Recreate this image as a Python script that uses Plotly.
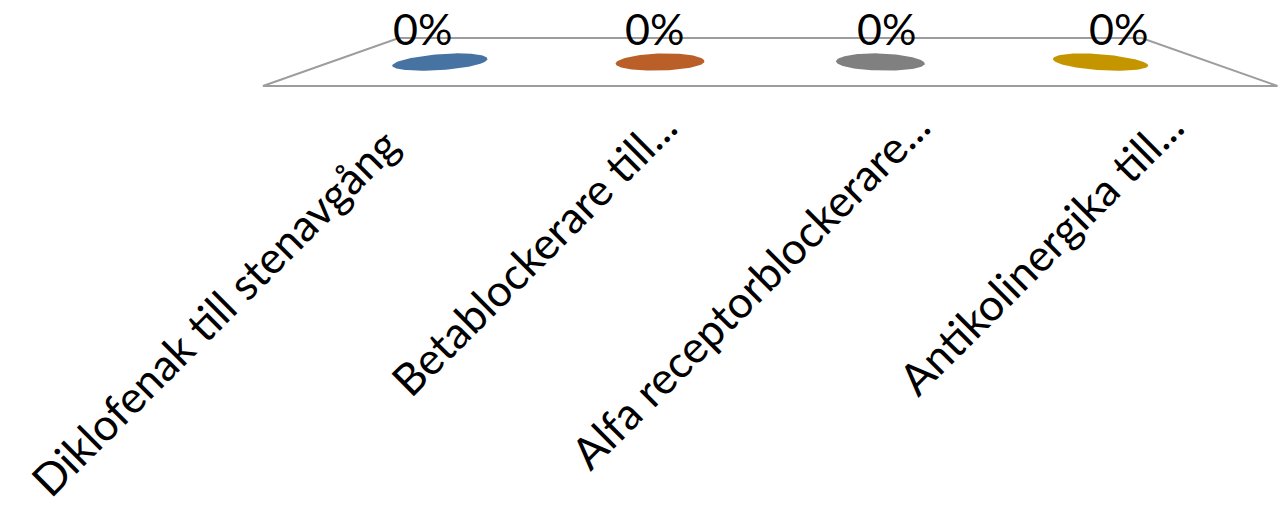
import numpy as np
import plotly.graph_objects as go

# ---- data -------------------------------------------------------------
categories = [
    "Diklofenak till stenavgång",
    "Betablockerare till...",
    "Alfa receptorblockerare...",
    "Antikolinergika till...",
]
values = [0, 0, 0, 0]                      # share of answers, percent
value_labels = ["0%", "0%", "0%", "0%"]
colors = ["#4673a1", "#b95f27", "#808080", "#c59500"]

# ---- 3-D floor geometry ------------------------------------------------
# Depth runs from -1 (front edge of the floor) to +1 (back edge).
# Horizontal spread shrinks towards the back (simple perspective).
BACK_SCALE = 0.732
BAR_HALF = 0.2        # column radius, in category units
BAR_DEPTH = 0.36      # column radius along the depth direction
HEIGHT_PER_PCT = 0.04  # vertical rise per percent point
FONT = "Lato"


def proj(u, depth):
    s = 1 - (1 - BACK_SCALE) * (np.asarray(depth) + 1) / 2
    return 1.5 + (np.asarray(u) - 1.5) * s


n = len(categories)
fig = go.Figure()

# floor outline (trapezoid)
fx = [proj(-0.5, -1), proj(-0.5, 1), proj(n - 0.5, 1), proj(n - 0.5, -1), proj(-0.5, -1)]
fy = [-1, 1, 1, -1, -1]
fig.add_trace(go.Scatter(
    x=fx, y=fy, mode="lines",
    line=dict(color="#9d9d9d", width=2),
    hoverinfo="skip", showlegend=False,
))

# columns: top ellipse lifted by the value (all values are zero here)
t = np.linspace(0, 2 * np.pi, 121)
for i, (v, c) in enumerate(zip(values, colors)):
    u = i + BAR_HALF * np.cos(t)
    d = BAR_DEPTH * np.sin(t)
    fig.add_trace(go.Scatter(
        x=proj(u, d), y=d + v * HEIGHT_PER_PCT,
        mode="lines", fill="toself", fillcolor=c,
        line=dict(width=0, color=c),
        hoverinfo="skip", showlegend=False,
    ))

annotations = []
# value labels at the front of each column top
for i, (v, lab) in enumerate(zip(values, value_labels)):
    annotations.append(dict(
        x=float(proj(i, -BAR_DEPTH)), y=-BAR_DEPTH + v * HEIGHT_PER_PCT,
        xref="x", yref="y", text=lab, showarrow=False,
        xanchor="center", yanchor="bottom", yshift=15,
        font=dict(family=FONT, size=43, color="#000000"),
    ))

# rotated category labels under the front edge
label_nudge = [(-24, -18), (0, 0), (0, 0), (0, 0)]
for i, (cat, (dx, dy)) in enumerate(zip(categories, label_nudge)):
    annotations.append(dict(
        x=i, y=-0.22, xref="x", yref="paper", text=cat, showarrow=False,
        textangle=-45, xanchor="right", yanchor="top",
        xshift=45 + dx, yshift=25 + dy,
        font=dict(family=FONT, size=44, color="#000000"),
    ))

fig.update_layout(
    width=1278, height=509,
    margin=dict(l=0, r=0, t=0, b=409, pad=0),
    paper_bgcolor="white", plot_bgcolor="white",
    xaxis=dict(range=[-0.5 - 263 / 253.75, 3.502], visible=False, fixedrange=True),
    yaxis=dict(range=[-1 - 14 / 24, 1 + 38 / 24], visible=False, fixedrange=True),
    annotations=annotations,
    showlegend=False,
)

fig.write_html("out.html")
